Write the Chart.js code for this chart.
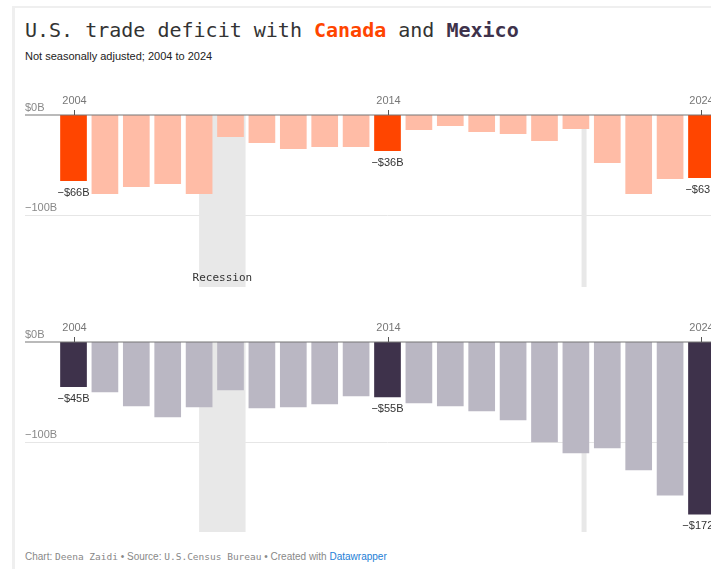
<!DOCTYPE html>
<html><head><meta charset="utf-8">
<script src="https://cdn.jsdelivr.net/npm/chart.js@4"></script>
<style>
html,body{margin:0;padding:0;width:711px;height:569px;overflow:hidden;background:#fff;}
#frame{position:absolute;left:12px;top:6px;width:800px;height:600px;border-left:3px solid #efefef;border-top:2px solid #efefef;box-sizing:border-box;}
.title{position:absolute;left:25px;top:19px;font-family:"DejaVu Sans Mono",monospace;font-size:20px;line-height:22px;color:#333;white-space:nowrap;}
.title b.ca{color:#ff4500;}
.title b.mx{color:#3e324b;}
.sub{position:absolute;left:25px;top:50px;font-family:"Liberation Sans",Arial,sans-serif;font-size:11px;line-height:13px;color:#222;white-space:nowrap;}
.foot{position:absolute;left:25px;top:551px;font-family:"Liberation Sans",Arial,sans-serif;font-size:10px;line-height:12px;color:#888;white-space:nowrap;}
.foot .m{font-family:"DejaVu Sans Mono",monospace;font-size:9.5px;}
.foot a{color:#1c7ed6;text-decoration:none;}
canvas{position:absolute;left:0;}
</style></head>
<body>
<div id="frame"></div>
<div class="title">U.S. trade deficit with <b class="ca">Canada</b> and <b class="mx">Mexico</b></div>
<div class="sub">Not seasonally adjusted; 2004 to 2024</div>
<div class="foot">Chart: <span class="m">Deena Zaidi</span> • Source: <span class="m">U.S.Census Bureau</span> • Created with <a>Datawrapper</a></div>
<div style="position:absolute;left:0;top:85px;width:760px;height:210px;"><canvas id="c1" style="top:0"></canvas></div>
<div style="position:absolute;left:0;top:312px;width:760px;height:230px;"><canvas id="c2" style="top:0"></canvas></div>
<script>
const years = [2004,2005,2006,2007,2008,2009,2010,2011,2012,2013,2014,2015,2016,2017,2018,2019,2020,2021,2022,2023,2024];
const canadaDeficit = [-66,-79,-72,-69,-79,-22,-28,-34,-32,-32,-36,-15,-11,-17,-19,-26,-14,-48,-79,-64,-63];
const mexicoDeficit = [-45,-50,-64,-75,-65,-48,-66,-65,-62,-54,-55,-61,-64,-69,-78,-100,-111,-106,-128,-153,-172];
const highlightYears = [2004,2014,2024];
const yTicks = [0,-100];
const yTickLabels = ['$0B','\u2212100B'];
const recessions = [[2008.0,2009.48],[2020.18,2020.34]];
const recessionLabel = 'Recession';

const SANS = '"Liberation Sans", Arial, sans-serif';
const MONO = '"DejaVu Sans Mono", monospace';

function fmt(v){ return '\u2212$' + Math.abs(v) + 'B'; }

function makeChart(id, values, hiColor, loColor, yMin, h, padBottom, showRecLabel){
  const cv = document.getElementById(id);
  cv.width = 760; cv.height = h;
  cv.style.width = '760px'; cv.style.height = h + 'px';
  const data = years.map((y,i)=>({x:y, y:values[i]}));
  const colors = years.map(y => highlightYears.includes(y) ? hiColor : loColor);
  const deco = {
    id:'deco',
    beforeDatasetsDraw(chart){
      const {ctx, chartArea:a, scales:{x, y}} = chart;
      ctx.save();
      const g = y.getPixelForValue(yTicks[1]);
      ctx.strokeStyle = '#e6e6e6'; ctx.lineWidth = 1;
      ctx.beginPath(); ctx.moveTo(a.left, Math.round(g)+0.5); ctx.lineTo(a.right, Math.round(g)+0.5); ctx.stroke();
      ctx.fillStyle = '#e8e8e8';
      const y0 = y.getPixelForValue(0);
      recessions.forEach(r=>{
        const x1 = x.getPixelForValue(r[0]), x2 = x.getPixelForValue(r[1]);
        ctx.fillRect(x1, y0, x2-x1, a.bottom - y0);
      });
      ctx.restore();
    },
    afterDatasetsDraw(chart){
      const {ctx, chartArea:a, scales:{x, y}} = chart;
      ctx.save();
      const y0 = y.getPixelForValue(0);
      ctx.strokeStyle = '#777'; ctx.lineWidth = 1.2;
      ctx.beginPath(); ctx.moveTo(a.left, y0); ctx.lineTo(a.right, y0); ctx.stroke();
      ctx.font = '11px ' + SANS; ctx.fillStyle = '#888'; ctx.textAlign = 'left'; ctx.textBaseline = 'middle';
      yTicks.forEach((t,i)=>{ ctx.fillText(yTickLabels[i], a.left, y.getPixelForValue(t) - 7); });
      ctx.strokeStyle = '#555'; ctx.lineWidth = 1;
      highlightYears.forEach(yr=>{
        const px = Math.round(x.getPixelForValue(yr)) + 0.5;
        ctx.beginPath(); ctx.moveTo(px, y0 - 5); ctx.lineTo(px, y0); ctx.stroke();
        ctx.fillStyle = '#777'; ctx.textAlign = 'center';
        ctx.fillText(String(yr), px, y0 - 14);
      });
      ctx.font = '11px ' + SANS; ctx.fillStyle = '#333';
      highlightYears.forEach(yr=>{
        const i = years.indexOf(yr);
        const px = x.getPixelForValue(yr);
        const py = y.getPixelForValue(values[i]);
        ctx.fillText(fmt(values[i]), px, py + 12);
      });
      if (showRecLabel){
        const r = recessions[0];
        const cx = (x.getPixelForValue(r[0]) + x.getPixelForValue(r[1]))/2;
        ctx.font = '11px ' + MONO; ctx.fillStyle = '#333'; ctx.textAlign = 'center';
        ctx.fillText(recessionLabel, cx, a.bottom - 9);
      }
      ctx.restore();
    }
  };
  return new Chart(cv, {
    type:'bar',
    data:{ datasets:[{ data, backgroundColor:colors, borderWidth:0, categoryPercentage:1, barPercentage:0.85 }] },
    options:{
      responsive:false, animation:false, devicePixelRatio:1,
      layout:{ padding:{ left:25, right:10, top:30, bottom:padBottom } },
      plugins:{ legend:{display:false}, tooltip:{enabled:false} },
      scales:{
        x:{ type:'linear', min:2002.455, max:2025.545, display:false, offset:false },
        y:{ type:'linear', min:yMin, max:0, display:false }
      }
    },
    plugins:[deco]
  });
}
makeChart('c1', canadaDeficit, '#ff4500', '#ffbca6', -172, 210, 8, true);
makeChart('c2', mexicoDeficit, '#3e324b', '#bab7c3', -189.5, 230, 10, false);
</script>
</body></html>
